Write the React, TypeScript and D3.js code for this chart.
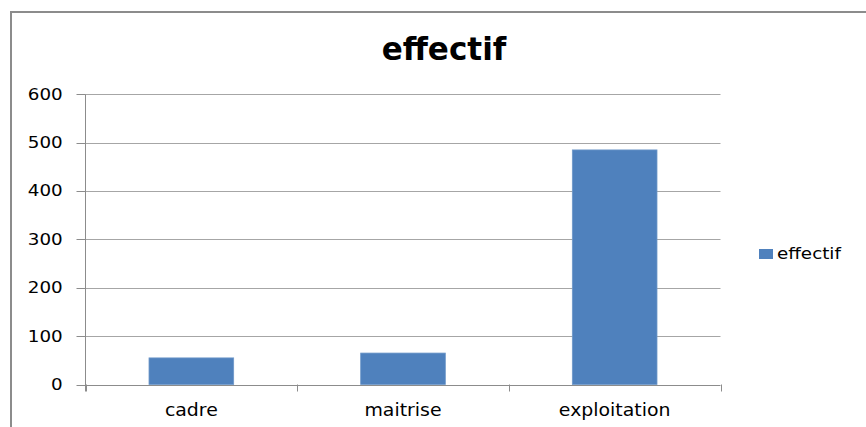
import React, { useEffect, useRef } from "react";
import * as d3 from "d3";

const categories: string[] = ["cadre", "maitrise", "exploitation"];
const effectif: number[] = [55, 65, 485];
const yTicks: number[] = [0, 100, 200, 300, 400, 500, 600];
const seriesName = "effectif";
const chartTitle = "effectif";

const W = 866;
const H = 427;
const BAR = "#4F81BD";
const FONT = "'DejaVu Sans', Verdana, sans-serif";

export default function App() {
  const ref = useRef<SVGSVGElement>(null);

  useEffect(() => {
    const svg = d3.select(ref.current);
    svg.selectAll("*").remove();

    const x0 = 85.5, x1 = 720.5, yTop = 94.3, yBot = 384.5;
    const x = d3.scaleBand<string>().domain(categories).range([x0, x1]).paddingInner(0.6).paddingOuter(0.3);
    const xb = d3.scaleBand<string>().domain(categories).range([x0, x1]);
    const y = d3.scaleLinear().domain([0, 600]).range([yBot, yTop]);

    const stretch = (sel: d3.Selection<SVGTextElement, any, any, any>, k: number) => {
      sel.each(function () {
        const n = this.getComputedTextLength();
        d3.select(this).attr("textLength", n * k).attr("lengthAdjust", "spacingAndGlyphs");
      });
    };

    // outer border
    svg.append("rect").attr("x", 11).attr("y", 12).attr("width", 1000).attr("height", 1000)
      .attr("fill", "white").attr("stroke", "#8c8c8c").attr("stroke-width", 2);

    // title
    const t = svg.append("text").attr("x", 444).attr("y", 60).attr("text-anchor", "middle")
      .attr("font-family", FONT).attr("font-weight", "bold").attr("font-size", 32).attr("fill", "#000")
      .text(chartTitle);
    stretch(t as any, 0.97);

    // gridlines + y ticks
    const g = svg.append("g");
    yTicks.forEach((v) => {
      if (v !== 0) {
        g.append("line").attr("x1", x0).attr("x2", x1).attr("y1", Math.round(y(v)) + 0.5).attr("y2", Math.round(y(v)) + 0.5)
          .attr("stroke", "#a6a6a6").attr("stroke-width", 1);
      }
      g.append("line").attr("x1", x0 - 9).attr("x2", x0).attr("y1", Math.round(y(v)) + 0.5).attr("y2", Math.round(y(v)) + 0.5)
        .attr("stroke", "#8c8c8c").attr("stroke-width", 1);
      const lt = g.append("text").attr("x", 62.7).attr("y", y(v)).attr("dy", "0.36em").attr("text-anchor", "end")
        .attr("font-family", FONT).attr("font-size", 15).attr("fill", "#000").text(String(v));
      stretch(lt as any, 1.22);
    });

    // bars
    svg.append("g").selectAll("rect").data(categories).join("rect")
      .attr("x", (d) => x(d)!).attr("width", x.bandwidth())
      .attr("y", (d, i) => y(effectif[i])).attr("height", (d, i) => yBot - y(effectif[i]))
      .attr("fill", BAR).attr("stroke", "#6f98c9").attr("stroke-width", 0.8);

    // axes
    svg.append("line").attr("x1", x0).attr("x2", x0).attr("y1", yTop).attr("y2", yBot + 7)
      .attr("stroke", "#8c8c8c").attr("stroke-width", 1);
    svg.append("line").attr("x1", x0).attr("x2", x1).attr("y1", Math.round(yBot) + 0.5).attr("y2", Math.round(yBot) + 0.5)
      .attr("stroke", "#8c8c8c").attr("stroke-width", 1);
    const bounds = [...categories.map((c) => xb(c)!), x1];
    bounds.forEach((bx) => {
      svg.append("line").attr("x1", Math.round(bx) + 0.5).attr("x2", Math.round(bx) + 0.5)
        .attr("y1", yBot).attr("y2", yBot + 7).attr("stroke", "#8c8c8c").attr("stroke-width", 1);
    });

    categories.forEach((c) => {
      const ct = svg.append("text").attr("x", xb(c)! + xb.bandwidth() / 2).attr("y", 416)
        .attr("text-anchor", "middle").attr("font-family", FONT).attr("font-size", 17).attr("fill", "#000").text(c);
      stretch(ct as any, 1.11);
    });

    // legend
    svg.append("rect").attr("x", 759).attr("y", 249).attr("width", 14).attr("height", 10).attr("fill", BAR);
    const lg = svg.append("text").attr("x", 777).attr("y", 258.5).attr("font-family", FONT).attr("font-size", 15)
      .attr("fill", "#000").text(seriesName);
    stretch(lg as any, 1.22);
  }, []);

  return (
    <svg ref={ref} width={W} height={H} style={{ position: "absolute", left: 0, top: 0, background: "white" }} />
  );
}
